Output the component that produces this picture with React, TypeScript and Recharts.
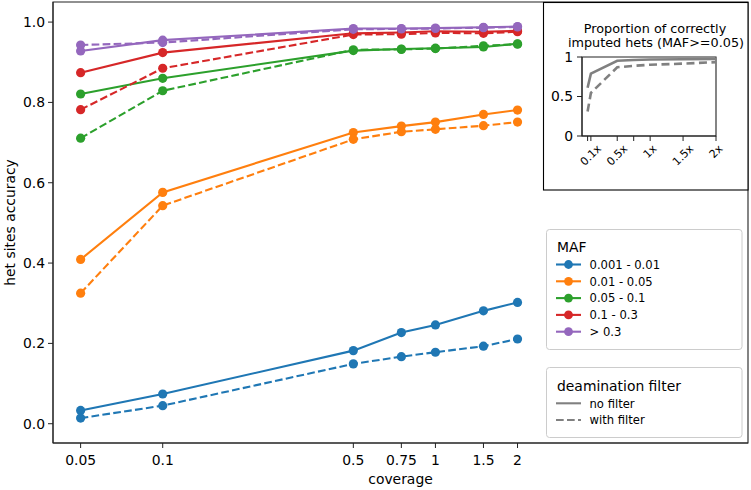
import React from "react";
import { LineChart, Line, XAxis, YAxis, ReferenceArea } from "recharts";

const FONT = '"DejaVu Sans", Verdana, sans-serif';

const coverage = [0.05, 0.1, 0.5, 0.75, 1, 1.5, 2];
const yTicks = [0, 0.2, 0.4, 0.6, 0.8, 1.0];

const mafLabels = ["0.001 - 0.01", "0.01 - 0.05", "0.05 - 0.1", "0.1 - 0.3", "> 0.3"];
const mafColors = ["#1f77b4", "#ff7f0e", "#2ca02c", "#d62728", "#9467bd"];

// het sites accuracy, no deamination filter
const maf1NoFilter = [0.033, 0.074, 0.182, 0.227, 0.246, 0.281, 0.302];
const maf2NoFilter = [0.409, 0.576, 0.725, 0.741, 0.751, 0.77, 0.781];
const maf3NoFilter = [0.821, 0.86, 0.929, 0.933, 0.935, 0.938, 0.946];
const maf4NoFilter = [0.874, 0.924, 0.972, 0.974, 0.977, 0.976, 0.978];
const maf5NoFilter = [0.928, 0.955, 0.984, 0.984, 0.985, 0.987, 0.989];

// het sites accuracy, with deamination filter
const maf1WithFilter = [0.014, 0.045, 0.149, 0.167, 0.178, 0.193, 0.211];
const maf2WithFilter = [0.325, 0.543, 0.708, 0.727, 0.733, 0.742, 0.751];
const maf3WithFilter = [0.711, 0.829, 0.931, 0.932, 0.934, 0.941, 0.945];
const maf4WithFilter = [0.782, 0.885, 0.969, 0.97, 0.973, 0.972, 0.976];
const maf5WithFilter = [0.943, 0.949, 0.982, 0.983, 0.984, 0.986, 0.988];

// inset: proportion of correctly imputed hets (MAF>=0.05)
const insetNoFilter = [0.61, 0.79, 0.953, 0.962, 0.968, 0.972, 0.976];
const insetWithFilter = [0.31, 0.545, 0.87, 0.888, 0.902, 0.916, 0.935];
const insetTicks = [0, 0.5, 1];
const insetTickLabels = ["", "0.1x", "0.5x", "", "1x", "1.5x", "2x"];

const noFilterSeries = [maf1NoFilter, maf2NoFilter, maf3NoFilter, maf4NoFilter, maf5NoFilter];
const withFilterSeries = [maf1WithFilter, maf2WithFilter, maf3WithFilter, maf4WithFilter, maf5WithFilter];

const mainData = coverage.map((c, i) => {
  const row: Record<string, number> = { coverage: c };
  mafLabels.forEach((_, k) => {
    row[`nf${k}`] = noFilterSeries[k][i];
    row[`wf${k}`] = withFilterSeries[k][i];
  });
  return row;
});

const insetData = coverage.map((c, i) => ({
  coverage: c,
  noFilter: insetNoFilter[i],
  withFilter: insetWithFilter[i],
}));

const X_DOMAIN: [number, number] = [0.0396, 14];
const Y_DOMAIN: [number, number] = [-0.048, 1.05];
const DASH = "7.7 3.3";
const GRAY = "#808080";
const SPINE = "#222";

const charW: Record<string, number> = { ".": 0.318, x: 0.592 };
const textWidth = (s: string, size: number) =>
  s.split("").reduce((acc, ch) => acc + (charW[ch] ?? 0.636), 0) * size;

// rotated (45deg) inset x tick labels, centred under the tick like matplotlib
function InsetXTick(props: any) {
  const { x, y, payload } = props;
  const label = insetTickLabels[coverage.indexOf(payload.value)] || "";
  if (!label) return <g />;
  const size = 11;
  const off = (textWidth(label, size) + 0.73 * size) / (2 * Math.SQRT2);
  const cy = y + off;
  return (
    <text
      x={x}
      y={cy}
      textAnchor="middle"
      dominantBaseline="central"
      fontSize={size}
      fill="#000"
      transform={`rotate(-45, ${x}, ${cy})`}
    >
      {label}
    </text>
  );
}

export default function App() {
  const mafRows = [268.7, 285.5, 302.3, 319.1, 335.9];
  return (
    <div
      style={{
        position: "absolute",
        left: 0,
        top: 0,
        width: 751,
        height: 490,
        background: "#fff",
        fontFamily: FONT,
        overflow: "hidden",
      }}
    >
      <div style={{ position: "absolute", left: 0, top: 0 }}>
        <LineChart width={751} height={490} data={mainData} margin={{ top: 2, right: 3, bottom: 0, left: 0 }}>
          <XAxis
            dataKey="coverage"
            type="number"
            scale="log"
            domain={X_DOMAIN}
            allowDataOverflow
            ticks={coverage}
            interval={0}
            tickFormatter={(v: number) => String(v)}
            height={47}
            tickSize={5}
            tickMargin={7}
            stroke={SPINE}
            tick={{ fill: "#000", fontSize: 13.9 }}
          />
          <YAxis
            type="number"
            domain={Y_DOMAIN}
            allowDataOverflow
            ticks={yTicks}
            interval={0}
            tickFormatter={(v: number) => v.toFixed(1)}
            width={53}
            tickSize={5}
            tickMargin={3}
            stroke={SPINE}
            tick={{ fill: "#000", fontSize: 13.9 }}
          />
          <ReferenceArea
            x1={X_DOMAIN[0]}
            x2={X_DOMAIN[1]}
            y1={Y_DOMAIN[0]}
            y2={Y_DOMAIN[1]}
            fill="none"
            stroke={SPINE}
            strokeWidth={1.1}
            ifOverflow="visible"
          />
          {mafLabels.flatMap((_, k) => [
            <Line
              key={`nf${k}`}
              dataKey={`nf${k}`}
              stroke={mafColors[k]}
              strokeWidth={2.1}
              dot={{ r: 4.6, fill: mafColors[k], stroke: mafColors[k], strokeWidth: 0 }}
              activeDot={false}
              isAnimationActive={false}
            />,
            <Line
              key={`wf${k}`}
              dataKey={`wf${k}`}
              stroke={mafColors[k]}
              strokeWidth={2.1}
              strokeDasharray={DASH}
              dot={{ r: 4.6, fill: mafColors[k], stroke: mafColors[k], strokeWidth: 0, strokeDasharray: "" }}
              activeDot={false}
              isAnimationActive={false}
            />,
          ])}
        </LineChart>
      </div>

      <svg width={751} height={490} style={{ position: "absolute", left: 0, top: 0, pointerEvents: "none" }}>
        {/* axis labels */}
        <text x={400.5} y={484} textAnchor="middle" fontSize={13.9} fill="#000">
          coverage
        </text>
        <text
          x={14.5}
          y={222.5}
          textAnchor="middle"
          fontSize={13.9}
          fill="#000"
          transform="rotate(-90, 14.5, 222.5)"
        >
          het sites accuracy
        </text>

        {/* inset frame */}
        <rect x={543.5} y={2.5} width={204.5} height={187.5} fill="#fff" stroke="#000" strokeWidth={1.1} />
        <text x={655} y={32.5} textAnchor="middle" fontSize={12.8} fill="#000">
          Proportion of correctly
        </text>
        <text x={656} y={47.3} textAnchor="middle" fontSize={12.8} fill="#000">
          imputed hets (MAF&gt;=0.05)
        </text>

        {/* MAF legend */}
        <rect x={546.5} y={229.5} width={195.5} height={120} rx={3} fill="#fff" fillOpacity={0.8} stroke="#ccc" />
        <text x={557} y={251.7} fontSize={13.9} fill="#000">
          MAF
        </text>
        {mafLabels.map((lab, k) => (
          <g key={lab}>
            <line x1={556} x2={581} y1={mafRows[k] - 4.2} y2={mafRows[k] - 4.2} stroke={mafColors[k]} strokeWidth={2.1} />
            <circle cx={568.5} cy={mafRows[k] - 4.2} r={4.4} fill={mafColors[k]} />
            <text x={589.5} y={mafRows[k]} fontSize={11.6} fill="#000">
              {lab}
            </text>
          </g>
        ))}

        {/* deamination filter legend */}
        <rect x={546.5} y={367.5} width={195.5} height={70} rx={3} fill="#fff" fillOpacity={0.8} stroke="#ccc" />
        <text x={557} y={390.5} fontSize={13.9} fill="#000">
          deamination filter
        </text>
        <line x1={556} x2={581} y1={403.3} y2={403.3} stroke={GRAY} strokeWidth={2.1} />
        <text x={589.5} y={407.5} fontSize={11.6} fill="#000">
          no filter
        </text>
        <line x1={556} x2={581} y1={420} y2={420} stroke={GRAY} strokeWidth={2.1} strokeDasharray={DASH} />
        <text x={589.5} y={424.2} fontSize={11.6} fill="#000">
          with filter
        </text>
      </svg>

      <div style={{ position: "absolute", left: 543, top: 2 }}>
        <LineChart width={205} height={188} data={insetData} margin={{ top: 55, right: 32, bottom: 0, left: 0 }}>
          <XAxis
            dataKey="coverage"
            type="number"
            domain={[-0.035, 2]}
            allowDataOverflow
            ticks={coverage}
            interval={0}
            height={54}
            tickSize={5}
            tickMargin={3}
            stroke={SPINE}
            tick={<InsetXTick />}
          />
          <YAxis
            type="number"
            domain={[0, 1]}
            allowDataOverflow
            ticks={insetTicks}
            interval={0}
            tickFormatter={(v: number) => String(v)}
            width={39}
            tickSize={5}
            tickMargin={4}
            stroke={SPINE}
            tick={{ fill: "#000", fontSize: 13.9 }}
          />
          <ReferenceArea x1={-0.035} x2={2} y1={0} y2={1} fill="none" stroke={SPINE} strokeWidth={1.1} ifOverflow="visible" />
          <Line
            dataKey="noFilter"
            stroke={GRAY}
            strokeWidth={2.6}
            dot={false}
            activeDot={false}
            isAnimationActive={false}
          />
          <Line
            dataKey="withFilter"
            stroke={GRAY}
            strokeWidth={2.6}
            strokeDasharray="8 4.5"
            dot={false}
            activeDot={false}
            isAnimationActive={false}
          />
        </LineChart>
      </div>
    </div>
  );
}
